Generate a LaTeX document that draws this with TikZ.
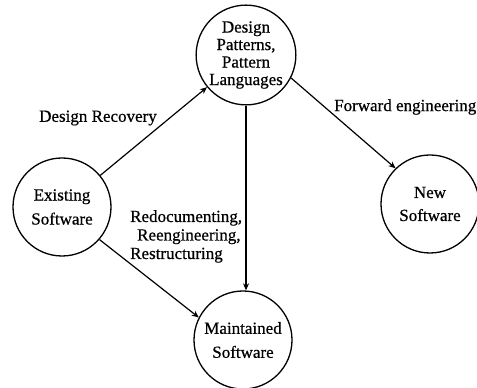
\documentclass[tikz,border=0pt]{standalone}
\usepackage{fontspec}
\setmainfont{Liberation Serif}[FakeBold=0.6,AutoFakeBold=0.6]
\usetikzlibrary{arrows.meta}
\begin{document}
\begin{tikzpicture}[x=1pt,y=1pt,
  state/.style={draw, circle, line width=1.3pt, minimum size=98pt, inner sep=0pt, align=center, font=\fontsize{17}{24}\selectfont\bfseries},
  conn/.style={line width=1.2pt, -{Stealth[length=7pt,width=6pt]}},
  lbl/.style={font=\fontsize{17}{18.5}\selectfont\bfseries, inner sep=0pt}]
\useasboundingbox (0,0) rectangle (477,388);
\node[state, font=\fontsize{17}{17.5}\selectfont\bfseries] (D) at (246,333) {Design\\Patterns,\\Pattern\\Languages};
\node[state] (E) at (62,181) {Existing\\Software};
\node[state, font=\fontsize{17}{23}\selectfont\bfseries] (N) at (430,184) {New\\Software};
\node[state] (M) at (243,48) {Maintained\\Software};
\draw[conn] (E) -- (D);
\draw[conn] (E.-41) -- (M.153);
\draw[conn] (D.south) -- (D.south |- M.north);
\draw[conn] (D.-27) -- (N.134);
\node[lbl] (l1) at (98,270) {Design Recovery};
\node[lbl, anchor=west] (l2) at (334,281) {Forward engineering};
\node[lbl, anchor=north west, align=left] (l3) at (130,178) {Redocumenting,\\\hspace{7pt}Reengineering,\\Restructuring};
\end{tikzpicture}
\end{document}
